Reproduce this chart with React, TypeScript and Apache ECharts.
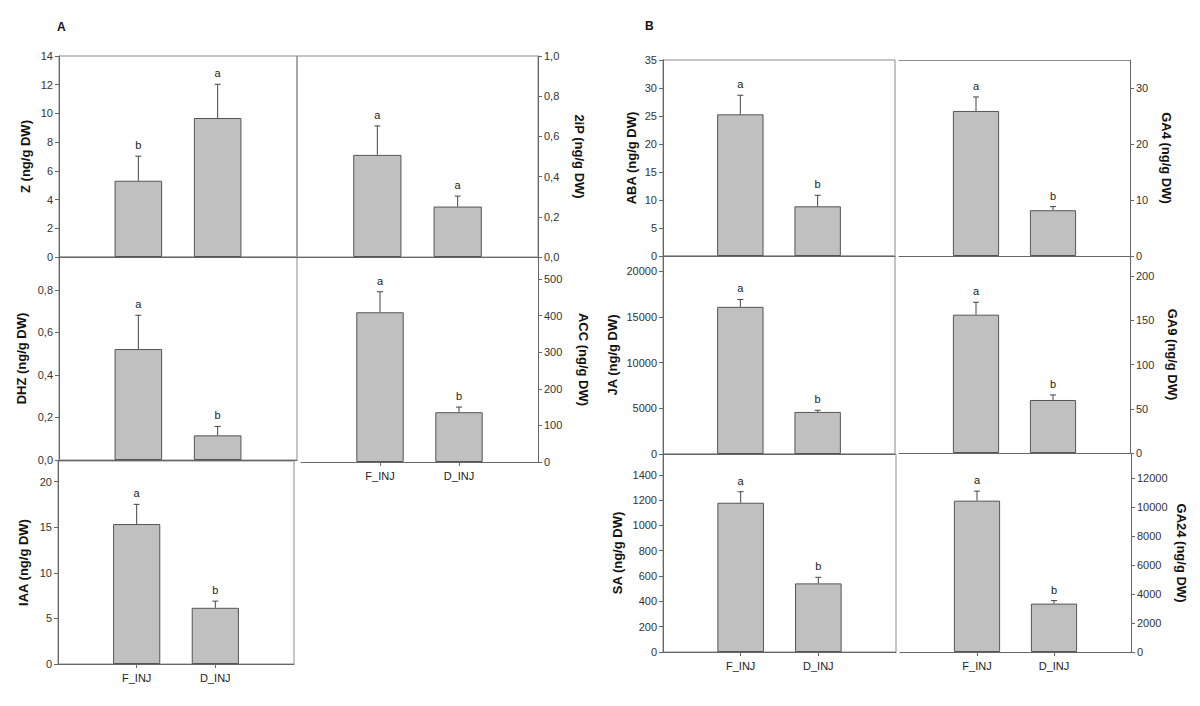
import React, { useEffect, useRef } from "react";
import * as echarts from "echarts";

// ---------- data ----------
const categories = ["F_INJ", "D_INJ"];

const zMean = [5.31, 9.68];
const zSE = [1.71, 2.35];
const zLetters = ["b", "a"];

const ipMean = [0.508, 0.251];
const ipSE = [0.144, 0.052];
const ipLetters = ["a", "a"];

const dhzMean = [0.522, 0.116];
const dhzSE = [0.159, 0.042];
const dhzLetters = ["a", "b"];

const accMean = [409, 136];
const accSE = [56, 14];
const accLetters = ["a", "b"];

const iaaMean = [15.34, 6.16];
const iaaSE = [2.16, 0.73];
const iaaLetters = ["a", "b"];

const abaMean = [25.3, 8.87];
const abaSE = [3.4, 1.97];
const abaLetters = ["a", "b"];

const ga4Mean = [25.9, 8.17];
const ga4SE = [2.5, 0.65];
const ga4Letters = ["a", "b"];

const jaMean = [16090, 4600];
const jaSE = [810, 180];
const jaLetters = ["a", "b"];

const ga9Mean = [156.6, 60];
const ga9SE = [14, 5.7];
const ga9Letters = ["a", "b"];

const saMean = [1179, 542];
const saSE = [87, 48];
const saLetters = ["a", "b"];

const ga24Mean = [10465, 3346];
const ga24SE = [661, 207];
const ga24Letters = ["a", "b"];

const FONT = "'Liberation Sans', Arial, sans-serif";
const AXIS = "#666";
const FRAME = "#8c8c8c";

type Panel = {
  name: string;
  mean: number[];
  se: number[];
  letters: string[];
  left: number;
  top: number;
  width: number;
  height: number;
  side: "left" | "right";
  max: number;
  interval: number;
  decimals: number;
  showMax: boolean;
  nameGap: number;
  frame: boolean;
  topLine: boolean;
  xLabels: boolean;
};

const panels: Panel[] = [
  { name: "Z (ng/g DW)", mean: zMean, se: zSE, letters: zLetters, left: 59, top: 56, width: 238, height: 201, side: "left", max: 14, interval: 2, decimals: 0, showMax: true, nameGap: 27, frame: true, topLine: false, xLabels: false },
  { name: "2iP (ng/g DW)", mean: ipMean, se: ipSE, letters: ipLetters, left: 297, top: 56, width: 241, height: 201, side: "right", max: 1, interval: 0.2, decimals: 1, showMax: true, nameGap: 35, frame: true, topLine: false, xLabels: false },
  { name: "DHZ (ng/g DW)", mean: dhzMean, se: dhzSE, letters: dhzLetters, left: 59, top: 257, width: 238, height: 203, side: "left", max: 0.955, interval: 0.2, decimals: 1, showMax: false, nameGap: 31, frame: true, topLine: false, xLabels: false },
  { name: "ACC (ng/g DW)", mean: accMean, se: accSE, letters: accLetters, left: 301, top: 257, width: 237, height: 205, side: "right", max: 560, interval: 100, decimals: 0, showMax: false, nameGap: 39, frame: false, topLine: false, xLabels: true },
  { name: "IAA (ng/g DW)", mean: iaaMean, se: iaaSE, letters: iaaLetters, left: 58, top: 461, width: 236, height: 203, side: "left", max: 22.25, interval: 5, decimals: 0, showMax: false, nameGap: 28, frame: true, topLine: false, xLabels: true },
  { name: "ABA (ng/g DW)", mean: abaMean, se: abaSE, letters: abaLetters, left: 663, top: 60, width: 232, height: 196, side: "left", max: 35, interval: 5, decimals: 0, showMax: true, nameGap: 25, frame: true, topLine: false, xLabels: false },
  { name: "GA4 (ng/g DW)", mean: ga4Mean, se: ga4SE, letters: ga4Letters, left: 899, top: 60, width: 231, height: 196, side: "right", max: 35, interval: 10, decimals: 0, showMax: false, nameGap: 30, frame: false, topLine: true, xLabels: false },
  { name: "JA (ng/g DW)", mean: jaMean, se: jaSE, letters: jaLetters, left: 663, top: 256, width: 232, height: 198, side: "left", max: 21650, interval: 5000, decimals: 0, showMax: false, nameGap: 44, frame: true, topLine: false, xLabels: false },
  { name: "GA9 (ng/g DW)", mean: ga9Mean, se: ga9SE, letters: ga9Letters, left: 899, top: 256, width: 231, height: 197, side: "right", max: 223, interval: 50, decimals: 0, showMax: false, nameGap: 36, frame: false, topLine: false, xLabels: false },
  { name: "SA (ng/g DW)", mean: saMean, se: saSE, letters: saLetters, left: 663, top: 454, width: 233, height: 198, side: "left", max: 1564, interval: 200, decimals: 0, showMax: false, nameGap: 39, frame: true, topLine: false, xLabels: true },
  { name: "GA24 (ng/g DW)", mean: ga24Mean, se: ga24SE, letters: ga24Letters, left: 900, top: 454, width: 231, height: 198, side: "right", max: 13690, interval: 2000, decimals: 0, showMax: false, nameGap: 44, frame: false, topLine: false, xLabels: true },
];

function buildOption() {
  const grid: any[] = [];
  const xAxis: any[] = [];
  const yAxis: any[] = [];
  const series: any[] = [];
  const catData = ["", ...categories, ""];

  panels.forEach((p, i) => {
    grid.push({
      left: p.left,
      top: p.top,
      width: p.width,
      height: p.height,
      show: p.frame,
      borderColor: FRAME,
      borderWidth: 1,
      backgroundColor: "transparent",
      containLabel: false,
    });
    const xIndex = xAxis.length;
    xAxis.push({
      gridIndex: i,
      type: "category",
      data: catData,
      boundaryGap: false,
      axisLine: { show: true, onZero: false, lineStyle: { color: AXIS, width: 1 } },
      axisTick: {
        show: p.xLabels,
        interval: (idx: number) => idx === 1 || idx === 2,
        length: 4,
        lineStyle: { color: AXIS },
      },
      axisLabel: {
        show: p.xLabels,
        interval: 0,
        margin: 8,
        fontSize: 11,
        color: "#222",
        fontFamily: FONT,
      },
      splitLine: { show: false },
    });
    if (p.topLine) {
      xAxis.push({
        gridIndex: i,
        type: "category",
        position: "top",
        data: catData,
        boundaryGap: false,
        axisLine: { show: true, onZero: false, lineStyle: { color: FRAME, width: 1 } },
        axisTick: { show: false },
        axisLabel: { show: false },
        splitLine: { show: false },
      });
    }
    yAxis.push({
      gridIndex: i,
      type: "value",
      position: p.side,
      min: 0,
      max: p.max,
      interval: p.interval,
      axisLine: { show: true, onZero: false, lineStyle: { color: AXIS, width: 1 } },
      axisTick: { show: true, length: 4, lineStyle: { color: AXIS } },
      axisLabel: {
        showMaxLabel: p.showMax,
        fontSize: 11,
        color: "#333",
        fontFamily: FONT,
        margin: 6,
        formatter: (v: number) =>
          p.decimals ? v.toFixed(p.decimals).replace(".", ",") : String(Math.round(v)),
      },
      splitLine: { show: false },
      name: p.name,
      nameLocation: "middle",
      nameGap: p.nameGap,
      nameRotate: p.side === "right" ? -90 : 90,
      nameTextStyle: { fontWeight: "bold", fontSize: 13, color: "#111", fontFamily: FONT },
    });
    series.push({
      type: "bar",
      xAxisIndex: xIndex,
      yAxisIndex: i,
      data: [null, ...p.mean, null],
      barWidth: "60%",
      itemStyle: { color: "#c0c0c0", borderColor: "#555", borderWidth: 1 },
      silent: true,
      z: 2,
    });
    series.push({
      type: "custom",
      xAxisIndex: xIndex,
      yAxisIndex: i,
      data: p.mean.map((m, k) => [k + 1, m + p.se[k]]),
      z: 5,
      silent: true,
      renderItem: (params: any, api: any) => {
        const k = params.dataIndex;
        const top = api.coord([api.value(0), api.value(1)]);
        const base = api.coord([api.value(0), p.mean[k]]);
        const st = { stroke: "#444", lineWidth: 1 };
        return {
          type: "group",
          children: [
            { type: "line", shape: { x1: top[0], y1: base[1], x2: top[0], y2: top[1] }, style: st },
            { type: "line", shape: { x1: top[0] - 3, y1: top[1], x2: top[0] + 3, y2: top[1] }, style: st },
            {
              type: "text",
              x: top[0],
              y: top[1] - 11,
              style: {
                text: p.letters[k],
                fill: "#222",
                fontSize: 11,
                fontFamily: FONT,
                align: "center",
                verticalAlign: "middle",
              },
            },
          ],
        };
      },
    });
  });

  return {
    animation: false,
    backgroundColor: "#ffffff",
    grid,
    xAxis,
    yAxis,
    series,
    graphic: [
      { type: "text", left: 57, top: 21, style: { text: "A", fill: "#111", font: `bold 12px ${FONT}` } },
      { type: "text", left: 645, top: 20, style: { text: "B", fill: "#111", font: `bold 12px ${FONT}` } },
    ],
  };
}

export default function App() {
  const ref = useRef<HTMLDivElement>(null);
  useEffect(() => {
    if (!ref.current) return;
    const chart = echarts.init(ref.current, undefined, { renderer: "svg" });
    chart.setOption(buildOption() as any);
    return () => chart.dispose();
  }, []);
  return (
    <div
      ref={ref}
      style={{ position: "absolute", left: 0, top: 0, width: 1200, height: 706, background: "#fff" }}
    />
  );
}
